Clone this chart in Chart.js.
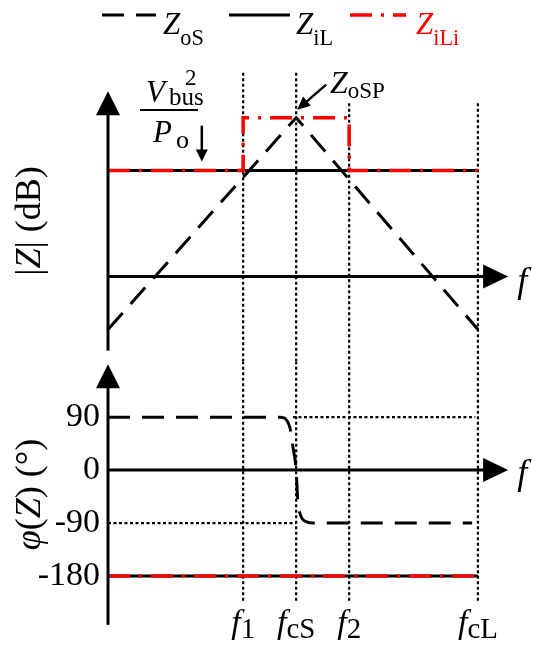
<!DOCTYPE html>
<html>
<head>
<meta charset="utf-8">
<script src="https://cdn.jsdelivr.net/npm/chart.js@4/dist/chart.umd.min.js"></script>
<style>
  html, body { margin: 0; padding: 0; background: #fff; }
  #wrap { width: 550px; height: 660px; }
</style>
</head>
<body>
<div id="wrap"><canvas id="bode" width="550" height="660"></canvas></div>
<script>
// frequency marks (normalised log-frequency units)
const freqTicks = [2.55, 3.55, 4.55, 6.98];
const freqLabels = [['f', '1'], ['f', 'cS'], ['f', '2'], ['f', 'cL']];

// |Z| (dB, normalised)
const magZoS_x = [0, 3.55, 6.98];
const magZoS_y = [-1, 3, -1];
const magZiL_x = [0, 6.98];
const magZiL_y = [2, 2];
const magZiLi_x = [0, 2.55, 2.55, 4.55, 4.55, 6.98];
const magZiLi_y = [2, 2, 3, 3, 2, 2];

// phase (deg)
const phZoS_x = [0, 3.25, 3.43, 3.49, 3.55, 3.58, 3.62, 3.75, 3.87, 6.87];
const phZoS_y = [90, 90, 73, 39, 0, -51, -73, -88, -90, -90];
const phZiL_x = [0, 6.98];
const phZiL_y = [-180, -180];
const phZiLi_y = [-180, -180];
const phaseTicks = [90, 0, -90, -180];

// dotted helper lines
const guideTop = [3.85, 3.85, 3.27, 3.27];   // dB, top end of each vertical
const guideBottom = -224;                    // deg
const guide90_x = [3.49, 6.93];
const guideM90_x = [0, 3.55];

const SERIF = '"Liberation Serif", "Times New Roman", serif';
const MAG = { min: -1.6, max: 3.9, axis: [-1.4, 3.5] };
const PH = { min: -265, max: 185, axis: [-263, 180] };
const F_TIP = 7.55;

const pts = (xs, ys) => xs.map((x, i) => ({ x, y: ys[i] }));

const base = { pointRadius: 0, fill: false, tension: 0, borderCapStyle: 'butt' };
const styleZoS  = { ...base, borderColor: '#000', borderWidth: 3, borderDash: [22, 12] };
const styleZiL  = { ...base, borderColor: '#000', borderWidth: 3 };
const styleZiLi = { ...base, borderColor: '#ff0000', borderWidth: 3.5, borderDash: [22, 9, 3, 9] };
const styleGuide = { ...base, borderColor: '#000', borderWidth: 2.2, borderDash: [3, 2.5] };

const guides = [];
freqTicks.forEach((f, i) => {
  guides.push({ label: 'g', data: [{ x: f, y: guideTop[i] }, { x: f, y: MAG.min }], yAxisID: 'yMag', ...styleGuide });
  guides.push({ label: 'g', data: [{ x: f, y: PH.max }, { x: f, y: guideBottom }], yAxisID: 'yPh', ...styleGuide });
});
guides.push({ label: 'g', data: guide90_x.map(x => ({ x, y: 90 })), yAxisID: 'yPh', ...styleGuide });
guides.push({ label: 'g', data: guideM90_x.map(x => ({ x, y: -90 })), yAxisID: 'yPh', ...styleGuide });

// text with sub / superscripts: parts = [text, kind], kind i=italic r=roman b=sub p=sup
function drawRich(ctx, parts, x, y, size, opt = {}) {
  const sub = opt.sub || 0.75, drop = opt.drop || 0.3, align = opt.align || 'left';
  const specs = parts.map(([t, k]) => {
    const small = k === 'b' || k === 'p';
    const fs = small ? size * sub : size;
    const font = (k === 'i' ? 'italic ' : '') + fs + 'px ' + SERIF;
    ctx.font = font;
    const dy = k === 'b' ? size * drop : k === 'p' ? -size * 0.6 : 0;
    return { t, font, w: ctx.measureText(t).width, dy };
  });
  const total = specs.reduce((s, p) => s + p.w, 0);
  let cx = align === 'center' ? x - total / 2 : x;
  ctx.textAlign = 'left';
  ctx.textBaseline = 'alphabetic';
  specs.forEach(p => { ctx.font = p.font; ctx.fillText(p.t, cx, y + p.dy); cx += p.w; });
  return total;
}

function arrow(ctx, x0, y0, x1, y1, len, half, lw) {
  const a = Math.atan2(y1 - y0, x1 - x0);
  const bx = x1 - len * Math.cos(a), by = y1 - len * Math.sin(a);
  ctx.lineWidth = lw;
  ctx.setLineDash([]);
  ctx.beginPath(); ctx.moveTo(x0, y0); ctx.lineTo(bx + Math.cos(a), by + Math.sin(a)); ctx.stroke();
  ctx.beginPath();
  ctx.moveTo(x1, y1);
  ctx.lineTo(bx - half * Math.sin(a), by + half * Math.cos(a));
  ctx.lineTo(bx + half * Math.sin(a), by - half * Math.cos(a));
  ctx.closePath(); ctx.fill();
}

const overlay = {
  id: 'overlay',
  afterDatasetsDraw(chart) {
    const { ctx, scales: { x, yMag, yPh } } = chart;
    ctx.save();
    ctx.strokeStyle = '#000'; ctx.fillStyle = '#000';
    const x0 = x.getPixelForValue(0), xt = x.getPixelForValue(F_TIP);
    // magnitude axes
    arrow(ctx, x0, yMag.getPixelForValue(MAG.axis[0]), x0, yMag.getPixelForValue(MAG.axis[1]), 24, 12, 3);
    arrow(ctx, x0, yMag.getPixelForValue(0), xt, yMag.getPixelForValue(0), 25, 12, 3);
    // phase axes
    arrow(ctx, x0, yPh.getPixelForValue(PH.axis[0]), x0, yPh.getPixelForValue(PH.axis[1]), 24, 12, 3);
    arrow(ctx, x0, yPh.getPixelForValue(0), xt, yPh.getPixelForValue(0), 25, 12, 3);
    ctx.restore();
  },
  afterDraw(chart) {
    const { ctx, scales: { x, yMag, yPh } } = chart;
    ctx.save();
    ctx.fillStyle = '#000'; ctx.strokeStyle = '#000';
    const xt = x.getPixelForValue(F_TIP);

    // axis "f" labels
    drawRich(ctx, [['f', 'i']], xt + 9, yMag.getPixelForValue(0) + 15, 36);
    drawRich(ctx, [['f', 'i']], xt + 9, yPh.getPixelForValue(0) + 14, 36);

    // frequency labels
    freqTicks.forEach((f, i) => {
      drawRich(ctx, [[freqLabels[i][0], 'i'], [freqLabels[i][1], 'b']], x.getPixelForValue(f), 633, 34,
        { align: 'center', sub: 0.85, drop: 0.14 });
    });

    // y titles (rotated)
    const rot = (parts, cy, size) => {
      ctx.save();
      ctx.translate(40, cy);
      ctx.rotate(-Math.PI / 2);
      drawRich(ctx, parts, 0, 0, size, { align: 'center' });
      ctx.restore();
    };
    rot([['|', 'r'], ['Z', 'i'], ['| (dB)', 'r']], (yMag.getPixelForValue(MAG.axis[0]) + yMag.getPixelForValue(MAG.axis[1])) / 2, 36);
    rot([['\u03C6', 'i'], ['(', 'r'], ['Z', 'i'], [') (\u00B0)', 'r']], (yPh.getPixelForValue(PH.axis[0]) + yPh.getPixelForValue(PH.axis[1])) / 2, 36);

    // Vbus^2 / Po annotation
    const bx = x.getPixelForValue(1.77), by = yMag.getPixelForValue(magZiL_y[0]);
    arrow(ctx, bx, by - 45, bx, by - 9, 12, 6, 2.5);
    ctx.fillRect(140, 109, 58, 2);
    drawRich(ctx, [['V', 'i']], 146, 102, 31);
    drawRich(ctx, [['bus', 'r']], 169, 105, 25);
    drawRich(ctx, [['2', 'r']], 185, 85, 23);
    drawRich(ctx, [['P', 'i']], 153, 142, 31);
    drawRich(ctx, [['o', 'r']], 176, 148, 26);

    // ZoSP annotation
    const px = x.getPixelForValue(magZoS_x[1]), py = yMag.getPixelForValue(magZoS_y[1]);
    arrow(ctx, px + 30, py - 33, px + 1, py - 8, 13, 6, 2.5);
    drawRich(ctx, [['Z', 'i'], ['oSP', 'b']], 330, 93, 32, { sub: 0.72, drop: 0.17 });

    // legend
    const items = [
      { style: styleZoS, x0: 102, x1: 156, tx: 163, parts: [['Z', 'i'], ['oS', 'b']], color: '#000' },
      { style: styleZiL, x0: 229, x1: 290, tx: 296, parts: [['Z', 'i'], ['iL', 'b']], color: '#000' },
      { style: styleZiLi, x0: 350, x1: 406, tx: 416, parts: [['Z', 'i'], ['iLi', 'b']], color: '#ff0000' }
    ];
    items.forEach(it => {
      ctx.save();
      ctx.strokeStyle = it.style.borderColor;
      ctx.lineWidth = it.style.borderWidth;
      ctx.setLineDash(it.style.borderDash || []);
      ctx.beginPath(); ctx.moveTo(it.x0, 15); ctx.lineTo(it.x1, 15); ctx.stroke();
      ctx.fillStyle = it.color;
      drawRich(ctx, it.parts, it.tx, 34, 31, { sub: 0.72, drop: 0.36 });
      ctx.restore();
    });
    ctx.restore();
  }
};

new Chart(document.getElementById('bode'), {
  type: 'line',
  data: {
    datasets: [
      { label: 'ZiLi', data: pts(magZiLi_x, magZiLi_y), yAxisID: 'yMag', ...styleZiLi },
      { label: 'ZiLi', data: pts(phZiL_x, phZiLi_y), yAxisID: 'yPh', ...styleZiLi },
      { label: 'ZiL', data: pts(magZiL_x, magZiL_y), yAxisID: 'yMag', ...styleZiL },
      { label: 'ZiL', data: pts(phZiL_x, phZiL_y), yAxisID: 'yPh', ...styleZiL },
      { label: 'ZoS', data: pts(magZoS_x, magZoS_y), yAxisID: 'yMag', ...styleZoS },
      { label: 'ZoS', data: pts(phZoS_x, phZoS_y), yAxisID: 'yPh', ...styleZoS, cubicInterpolationMode: 'monotone' },
      ...guides
    ]
  },
  options: {
    responsive: false,
    animation: false,
    devicePixelRatio: 1,
    layout: { padding: { top: 70, right: 18, bottom: 34, left: 0 } },
    plugins: { legend: { display: false }, tooltip: { enabled: false } },
    scales: {
      x: { type: 'linear', min: 0, max: 8, display: false },
      yMag: {
        type: 'linear', position: 'left', stack: 'panels', stackWeight: MAG.max - MAG.min, weight: 2,
        min: MAG.min, max: MAG.max,
        grid: { display: false, drawTicks: false }, border: { display: false },
        ticks: { display: false },
        afterFit: s => { s.width = 108; }
      },
      yPh: {
        type: 'linear', position: 'left', stack: 'panels', stackWeight: (PH.max - PH.min) / 90, weight: 1,
        min: PH.min, max: PH.max,
        grid: { display: false, drawTicks: false }, border: { display: false },
        afterBuildTicks: s => { s.ticks = phaseTicks.map(v => ({ value: v })); },
        ticks: { color: '#000', padding: 8, font: { family: SERIF, size: 34 } },
        afterFit: s => { s.width = 108; }
      }
    }
  },
  plugins: [overlay]
});
</script>
</body>
</html>
